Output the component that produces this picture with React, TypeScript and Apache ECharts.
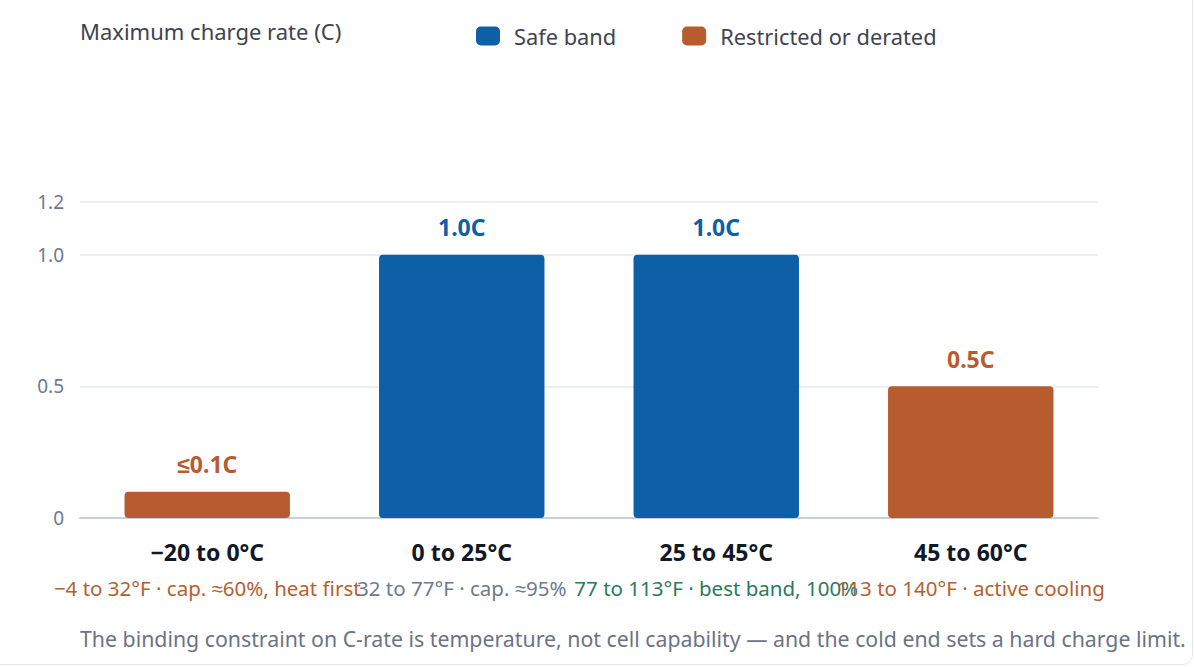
import React, { useEffect, useRef } from "react";
import * as echarts from "echarts";

const categories = ["−20 to 0°C", "0 to 25°C", "25 to 45°C", "45 to 60°C"];
const subLabels = [
  "−4 to 32°F · cap. ≈60%, heat first",
  "32 to 77°F · cap. ≈95%",
  "77 to 113°F · best band, 100%",
  "113 to 140°F · active cooling",
];
const safeValues: (number | null)[] = [null, 1.0, 1.0, null];
const restrictedValues: (number | null)[] = [0.1, null, null, 0.5];
const valueLabels = ["≤0.1C", "1.0C", "1.0C", "0.5C"];
const yTicks = [0, 0.5, 1.0, 1.2];
const titleText = "Maximum charge rate (C)";
const footerText =
  "The binding constraint on C-rate is temperature, not cell capability — and the cold end sets a hard charge limit.";

const BLUE = "#0d5fa6";
const ORANGE = "#b85c30";
const subColors = ["#b5602f", "#6b7a8f", "#2a7a5e", "#b5602f"];
const FONT = "'Noto Sans', sans-serif";

export default function App() {
  const ref = useRef<HTMLDivElement>(null);
  useEffect(() => {
    document.body.style.margin = "0";
    const chart = echarts.init(ref.current!, null, { renderer: "svg" });
    const rich: any = {
      n: { fontSize: 23, fontWeight: "bold", color: "#111827", lineHeight: 36, fontFamily: FONT },
    };
    subColors.forEach((c, i) => {
      rich["s" + i] = { fontSize: 20.5, color: c, lineHeight: 36, fontFamily: FONT };
    });
    const labelFor = (color: string) => ({
      show: true,
      position: "top",
      distance: 16,
      fontSize: 23,
      fontWeight: "bold",
      color,
      fontFamily: FONT,
      formatter: (p: any) => valueLabels[p.dataIndex],
    });
    chart.setOption({
      animation: false,
      textStyle: { fontFamily: FONT },
      title: [
        {
          text: titleText,
          left: 75,
          top: 15,
          textStyle: { fontSize: 22, fontWeight: "normal", color: "#3d4451", fontFamily: FONT },
        },
        {
          text: footerText,
          left: 75,
          top: 623,
          textStyle: { fontSize: 21.3, fontWeight: "normal", color: "#6b7385", fontFamily: FONT },
        },
      ],
      legend: {
        left: 471,
        top: 20,
        itemWidth: 24,
        itemHeight: 19,
        itemGap: 66,
        icon: "roundRect",
        textStyle: { fontSize: 21.8, color: "#3d4451", fontFamily: FONT, padding: [0, 0, 0, 9] },
        data: ["Safe band", "Restricted or derated"],
      },
      grid: { left: 80, right: 96, top: 202, bottom: 149, outerBoundsMode: "none" },
      xAxis: {
        type: "category",
        data: categories,
        axisLine: { lineStyle: { color: "#c6d1dd", width: 2 } },
        axisTick: { show: false },
        axisLabel: {
          interval: 0,
          margin: 16,
          formatter: (v: string, i: number) => `{n|${v}}\n{s${i}|${subLabels[i]}}`,
          rich,
        },
      },
      yAxis: {
        type: "value",
        min: yTicks[0],
        max: yTicks[yTicks.length - 1],
        interval: 0.5,
        axisLine: { show: false },
        axisTick: { show: false },
        splitLine: { lineStyle: { color: "#e4e9ef", width: 1.5 } },
        axisLabel: {
          margin: 16,
          fontSize: 19,
          color: "#6b7a8f",
          fontFamily: FONT,
          formatter: (v: number) => (v === 0 ? "0" : v.toFixed(1)),
        },
      },
      series: [
        {
          name: "Safe band",
          type: "bar",
          stack: "c",
          barWidth: "65%",
          data: safeValues.map((v) => (v === null ? "-" : v)),
          itemStyle: { color: BLUE, borderRadius: 4 },
          label: labelFor(BLUE),
        },
        {
          name: "Restricted or derated",
          type: "bar",
          stack: "c",
          barWidth: "65%",
          data: restrictedValues.map((v) => (v === null ? "-" : v)),
          itemStyle: { color: ORANGE, borderRadius: 4 },
          label: labelFor(ORANGE),
        },
      ],
    });
    return () => chart.dispose();
  }, []);
  return (
    <div style={{ position: "fixed", left: 0, top: 0, width: 1194, height: 667, background: "#fff", overflow: "hidden" }}>
      <div
        style={{
          position: "absolute",
          left: -20,
          top: -20,
          width: 1211,
          height: 683,
          border: "1px solid #e3e6ea",
          borderRadius: 10,
        }}
      />
      <div ref={ref} style={{ position: "absolute", left: 0, top: 0, width: 1194, height: 667 }} />
    </div>
  );
}
